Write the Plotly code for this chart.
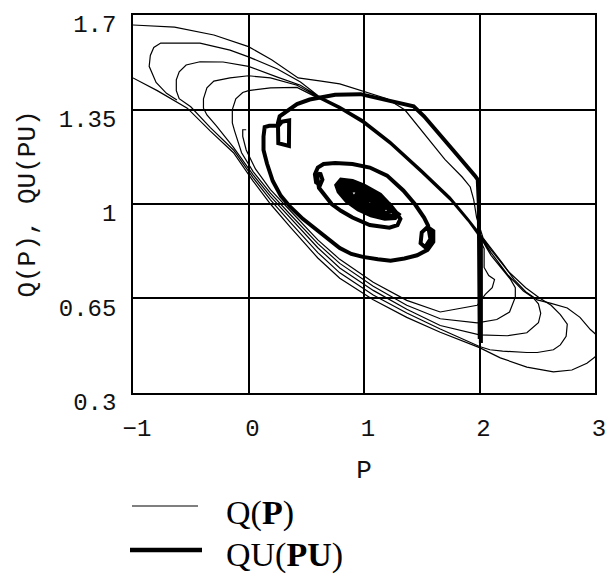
import plotly.graph_objects as go

# ---------------- thin curve Q(P): outer open loop, then inward spiral ----------------
outer_p = [-1.25, -1.0, -0.79, -0.53, -0.33, -0.13, 0.04, 0.19, 0.36, 0.6, 0.79, 1.08, 1.37, 1.66, 2.0,
           2.18, 2.41, 2.5, 2.64, 2.8, 2.93, 3.0, 3.05, 3.04, 3.0, 2.96, 2.87, 2.76, 2.62, 2.5, 2.4, 2.3,
           2.2, 2.1, 2.03, 1.975, 1.95, 1.92, 1.85, 1.7, 1.5, 1.355, 1.2, 0.97, 0.79, 0.63, 0.43, 0.2,
           0.0, -0.3, -0.64, -1.0, -1.2]
outer_q = [1.53, 1.467, 1.42, 1.355, 1.27, 1.19, 1.085, 1.0, 0.915, 0.8, 0.725, 0.645, 0.58, 0.525, 0.468,
           0.43, 0.396, 0.388, 0.378, 0.385, 0.41, 0.433, 0.47, 0.505, 0.52, 0.535, 0.58, 0.615, 0.632, 0.645,
           0.675, 0.72, 0.78, 0.835, 0.875, 0.95, 1.015, 1.063, 1.1, 1.165, 1.27, 1.348, 1.39, 1.42, 1.445,
           1.455, 1.467, 1.534, 1.583, 1.626, 1.655, 1.663, 1.66]

loop2_p = [-0.62, -0.71, -0.8, -0.86, -0.85, -0.82, -0.76, -0.42, -0.16, 0.0, 0.25, 0.45, 0.6, 0.79, 0.99,
           1.23, 1.5, 1.745, 1.9, 2.0, 2.1, 2.25, 2.4, 2.52, 2.62, 2.7, 2.76, 2.75, 2.7, 2.64, 2.5, 2.41,
           2.2, 2.09, 2.0]
loop2_q = [1.385, 1.41, 1.45, 1.51, 1.55, 1.58, 1.596, 1.596, 1.57, 1.545, 1.5, 1.452, 1.402, 1.362, 1.312,
           1.232, 1.126, 1.026, 0.947, 0.892, 0.83, 0.75, 0.69, 0.652, 0.625, 0.59, 0.555, 0.51, 0.478, 0.46,
           0.45, 0.45, 0.455, 0.46, 0.472]

loop3_p = [1.66, 1.37, 1.08, 0.79, 0.6, 0.36, 0.19, 0.04, -0.13, -0.33, -0.5, -0.6, -0.625, -0.625, -0.6,
           -0.54, -0.42, -0.22, 0.0, 0.25, 0.45, 0.6, 0.79, 0.99, 1.23, 1.5, 1.745, 1.9, 2.0, 2.1, 2.25,
           2.38, 2.46, 2.51, 2.53, 2.51, 2.41, 2.24, 2.0]
loop3_q = [0.537, 0.596, 0.663, 0.745, 0.82, 0.933, 1.015, 1.097, 1.2, 1.283, 1.36, 1.39, 1.42, 1.46, 1.49,
           1.515, 1.527, 1.526, 1.51, 1.47, 1.44, 1.4, 1.358, 1.308, 1.228, 1.122, 1.022, 0.943, 0.887, 0.82,
           0.735, 0.678, 0.655, 0.63, 0.595, 0.56, 0.523, 0.512, 0.515]

loop4_p = [1.66, 1.37, 1.08, 0.79, 0.6, 0.36, 0.19, 0.04, -0.13, -0.28, -0.36, -0.39, -0.39, -0.36, -0.3,
           -0.16, 0.0, 0.19, 0.42, 0.6, 0.79, 0.99, 1.23, 1.5, 1.745, 1.9, 2.0, 2.1, 2.2, 2.27, 2.31, 2.31,
           2.26, 2.15, 1.98]
loop4_q = [0.55, 0.61, 0.68, 0.763, 0.838, 0.948, 1.028, 1.108, 1.21, 1.29, 1.33, 1.355, 1.39, 1.43, 1.455,
           1.467, 1.475, 1.467, 1.44, 1.397, 1.355, 1.304, 1.224, 1.118, 1.018, 0.94, 0.882, 0.81, 0.755,
           0.72, 0.69, 0.655, 0.6, 0.572, 0.56]

loop5_p = [1.66, 1.37, 1.08, 0.79, 0.6, 0.36, 0.19, 0.04, -0.06, -0.12, -0.14, -0.14, -0.11, -0.05, 0.0,
           0.19, 0.42, 0.6, 0.79, 0.99, 1.23, 1.5, 1.745, 1.9, 1.98, 2.04, 2.04, 2.08, 2.13, 2.11, 2.05, 1.98]
loop5_q = [0.575, 0.625, 0.695, 0.78, 0.853, 0.962, 1.04, 1.12, 1.19, 1.27, 1.3, 1.35, 1.39, 1.413, 1.42,
           1.43, 1.432, 1.393, 1.352, 1.3, 1.22, 1.115, 1.015, 0.937, 0.89, 0.835, 0.765, 0.735, 0.72, 0.69,
           0.665, 0.625]

tail_p = [1.66, 1.37, 1.08, 0.79, 0.6, 0.36, 0.19, 0.06, -0.02, -0.05, -0.05, -0.02]
tail_q = [0.6, 0.643, 0.71, 0.795, 0.867, 0.976, 1.053, 1.13, 1.2, 1.25, 1.275, 1.275]

# ---------------- thick curve QU(PU): inward spiral ----------------
qu_outer_p = [2.012, 2.012, 2.002, 2.002, 1.994, 1.994, 1.985, 1.96, 1.8, 1.66, 1.52, 1.43, 1.2, 0.97,
              0.75, 0.53, 0.42, 0.33, 0.27, 0.255, 0.258, 0.35, 0.352, 0.29, 0.26, 0.18, 0.14, 0.13, 0.13,
              0.16, 0.21, 0.28, 0.36, 0.47, 0.59, 0.69, 0.79, 0.89, 0.99, 1.12, 1.23, 1.35, 1.46]
qu_outer_q = [0.485, 0.87, 0.87, 0.5, 0.5, 1.0, 1.09, 1.105, 1.185, 1.255, 1.325, 1.362, 1.385, 1.407,
              1.405, 1.387, 1.37, 1.345, 1.325, 1.3, 1.225, 1.215, 1.31, 1.305, 1.29, 1.29, 1.285, 1.25,
              1.2, 1.15, 1.085, 1.03, 0.99, 0.945, 0.904, 0.868, 0.837, 0.815, 0.804, 0.795, 0.79, 0.798, 0.81]

qu_mid_p = [1.55, 1.6, 1.6, 1.55, 1.5, 1.49, 1.53, 1.575, 1.555, 1.52, 1.44, 1.34, 1.2, 1.05, 0.9, 0.75,
            0.65, 0.6, 0.575, 0.585, 0.62, 0.64, 0.62, 0.595, 0.61, 0.66, 0.72, 0.8, 0.9, 1.05, 1.22, 1.29,
            1.315, 1.28]
qu_mid_q = [0.83, 0.86, 0.9, 0.915, 0.895, 0.855, 0.84, 0.87, 0.92, 0.95, 1.0, 1.05, 1.105, 1.135, 1.148,
            1.152, 1.148, 1.135, 1.11, 1.08, 1.07, 1.09, 1.115, 1.1, 1.06, 1.03, 1.0, 0.975, 0.95, 0.922,
            0.912, 0.922, 0.945, 0.968]

qu_core_p = [1.24, 1.14, 1.0, 0.9, 0.8, 0.76, 0.78, 0.85, 0.95, 1.06, 1.18, 1.27, 1.3,
             1.26, 1.18, 1.06, 0.95, 0.85, 0.79, 0.8, 0.86, 0.96, 1.08, 1.2, 1.27,
             1.22, 1.12, 1.0, 0.9, 0.83, 0.82, 0.88, 0.97, 1.07, 1.17, 1.23,
             1.19, 1.08, 0.97, 0.88, 0.85, 0.9, 0.99, 1.1, 1.18,
             1.14, 1.03, 0.93, 0.87, 0.9, 0.98, 1.08, 1.15,
             1.06, 0.97, 0.92, 0.95, 1.02, 1.04]
qu_core_q = [0.99, 1.035, 1.068, 1.085, 1.09, 1.07, 1.045, 1.01, 0.98, 0.958, 0.945, 0.948, 0.962,
             0.975, 1.01, 1.045, 1.07, 1.08, 1.075, 1.055, 1.025, 0.99, 0.965, 0.955, 0.958,
             1.0, 1.025, 1.052, 1.068, 1.068, 1.05, 1.02, 0.995, 0.975, 0.965, 0.972,
             0.99, 1.02, 1.045, 1.06, 1.055, 1.03, 1.005, 0.985, 0.978,
             1.005, 1.03, 1.05, 1.05, 1.03, 1.008, 0.99, 0.985,
             1.012, 1.03, 1.035, 1.02, 1.005, 1.01]

# tick labels
x_ticks = [-1, 0, 1, 2, 3]
x_tick_text = ["\u22121", "0", "1", "2", "3"]
y_ticks = [0.3, 0.65, 1, 1.35, 1.7]
y_tick_text = ["0.3", "0.65", "1", "1.35", "1.7"]

# assemble traces
q_p = outer_p + [None] + loop2_p + loop3_p + loop4_p + loop5_p + tail_p
q_q = outer_q + [None] + loop2_q + loop3_q + loop4_q + loop5_q + tail_q
qu_p = qu_outer_p + qu_mid_p + qu_core_p
qu_q = qu_outer_q + qu_mid_q + qu_core_q

fig = go.Figure()
fig.add_trace(go.Scatter(x=q_p, y=q_q, mode="lines", name="Q(P)",
                         line=dict(color="#000", width=1.2), connectgaps=False))
fig.add_trace(go.Scatter(x=qu_p, y=qu_q, mode="lines", name="QU(PU)",
                         line=dict(color="#000", width=4)))

mono = "Liberation Mono"
fig.update_xaxes(range=[-1, 3], tickvals=x_ticks, ticktext=x_tick_text, automargin=False,
                 showgrid=True, gridcolor="#000", gridwidth=1.6, zeroline=False,
                 showline=True, mirror=True, linecolor="#000", linewidth=1.6, ticks="",
                 tickfont=dict(family=mono, size=24, color="#111"),
                 ticklabelstandoff=12, ticklabelshift=4, ticklabeloverflow="allow",
                 title=dict(text="P", font=dict(family=mono, size=26, color="#111"), standoff=18))
fig.update_yaxes(range=[0.2999, 1.7001], tickvals=y_ticks, ticktext=y_tick_text, automargin=False,
                 showgrid=True, gridcolor="#000", gridwidth=1.6, zeroline=False,
                 showline=True, mirror=True, linecolor="#000", linewidth=1.6, ticks="",
                 tickfont=dict(family=mono, size=24, color="#111"),
                 ticklabelstandoff=10, ticklabelshift=9, ticklabeloverflow="allow",
                 title=dict(text="Q(P), QU(PU)", font=dict(family=mono, size=26, color="#111"), standoff=16))

# legend drawn below the plot
W, L, R, T, B, H = 608, 133, 13, 15, 184, 577
pw, ph = W - L - R, H - T - B
def px2paper(x, y):
    return (x - L) / pw, (H - B - y) / ph

x0, y0 = px2paper(132, 506)
x1, _ = px2paper(198, 506)
fig.add_shape(type="line", xref="paper", yref="paper", x0=x0, x1=x1, y0=y0, y1=y0,
              line=dict(color="#000", width=1.2))
x0, y1 = px2paper(130, 550)
x1, _ = px2paper(202, 550)
fig.add_shape(type="line", xref="paper", yref="paper", x0=x0, x1=x1, y0=y1, y1=y1,
              line=dict(color="#000", width=4.5))
tx, ty1 = px2paper(224, 513)
_, ty2 = px2paper(224, 555)
serif = "Liberation Serif"
fig.add_annotation(xref="paper", yref="paper", x=tx, y=ty1, xanchor="left", yanchor="middle",
                   text="Q(<b>P</b>)", showarrow=False, font=dict(family=serif, size=34, color="#000"))
fig.add_annotation(xref="paper", yref="paper", x=tx, y=ty2, xanchor="left", yanchor="middle",
                   text="QU(<b>PU</b>)", showarrow=False, font=dict(family=serif, size=34, color="#000"))

fig.update_layout(width=W, height=H, margin=dict(l=L, r=R, t=T, b=B, autoexpand=False),
                  plot_bgcolor="#fff", paper_bgcolor="#fff", showlegend=False)

fig.write_html("out.html")
